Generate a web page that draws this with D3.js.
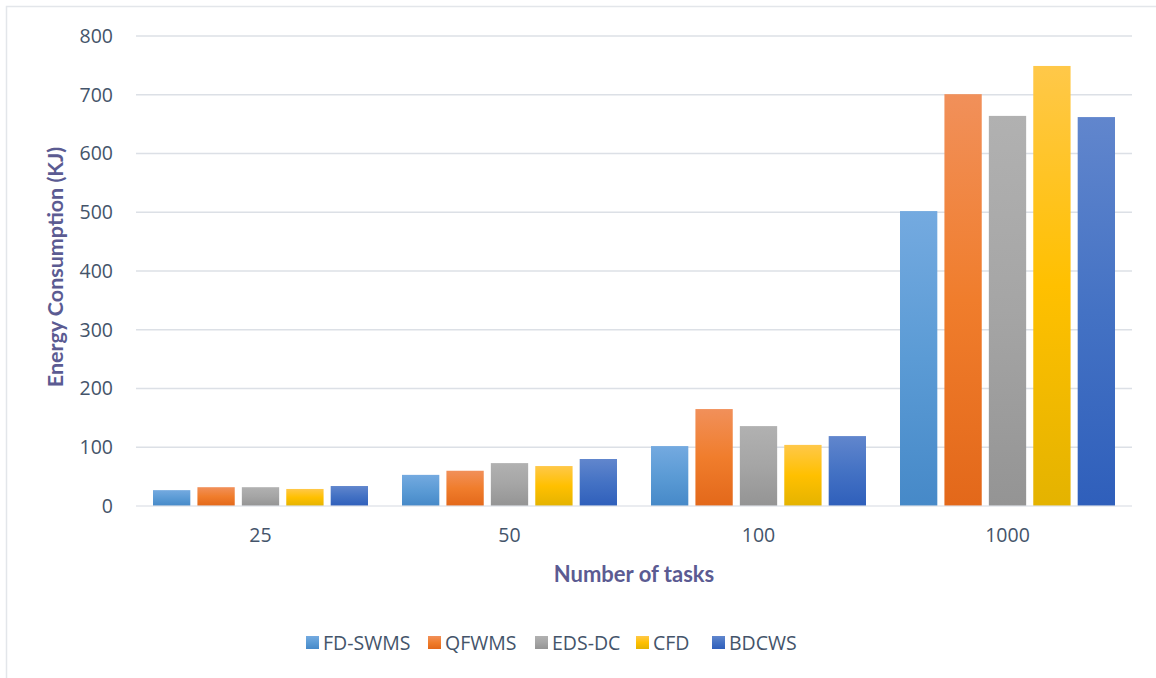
<!DOCTYPE html>
<html>
<head>
<meta charset="utf-8">
<script src="https://cdn.jsdelivr.net/npm/d3@7"></script>
<style>
  html, body { margin: 0; padding: 0; background: #fff; }
  svg { display: block; }
</style>
</head>
<body>
<svg id="chart" width="1156" height="678"></svg>
<script>
// Energy consumption (KJ) per scheduling method, by number of tasks
const categories = ["25", "50", "100", "1000"];
const seriesNames = ["FD-SWMS", "QFWMS", "EDS-DC", "CFD", "BDCWS"];
const fdSwms = [27, 53, 102, 502];
const qfwms  = [32, 60, 165, 701];
const edsDc  = [32, 73, 136, 664];
const cfd    = [29, 68, 104, 749];
const bdcws  = [34, 80, 119, 662];
const yTicks = [0, 100, 200, 300, 400, 500, 600, 700, 800];

const seriesValues = [fdSwms, qfwms, edsDc, cfd, bdcws];
// top / middle / bottom gradient stops for each series
const palette = [
  ["#74aae0", "#5b9bd5", "#4689c8"],
  ["#f1905a", "#f07d2c", "#e3681a"],
  ["#b1b1b1", "#a5a5a5", "#949494"],
  ["#ffc849", "#ffc000", "#e4b300"],
  ["#6186cd", "#4472c4", "#2f5fbb"]
];

const svg = d3.select("#chart");
const margin = { left: 136, right: 24, top: 36, bottom: 172 };
const W = 1156, H = 678;
const plotW = W - margin.left - margin.right;
const plotH = H - margin.top - margin.bottom;

const tickFont = "'Open Sans', sans-serif";
const titleFont = "Lato, 'Open Sans', sans-serif";
const textColor = "#44546a";
const titleColor = "#5b5b92";

// chart frame
svg.append("rect")
  .attr("x", 6.5).attr("y", 6.5)
  .attr("width", 1200).attr("height", 720)
  .attr("fill", "none").attr("stroke", "#e3e6ea").attr("stroke-width", 1.5);

// gradients
const defs = svg.append("defs");
palette.forEach((c, i) => {
  const g = defs.append("linearGradient")
    .attr("id", "grad" + i)
    .attr("x1", 0).attr("y1", 0).attr("x2", 0).attr("y2", 1);
  g.append("stop").attr("offset", "0%").attr("stop-color", c[0]);
  g.append("stop").attr("offset", "50%").attr("stop-color", c[1]);
  g.append("stop").attr("offset", "100%").attr("stop-color", c[2]);
});

const g = svg.append("g").attr("transform", `translate(${margin.left},${margin.top})`);

const x0 = d3.scaleBand().domain(categories).range([0, plotW]).paddingInner(0).paddingOuter(0);
const groupPad = 17;
const x1 = d3.scaleBand().domain(seriesNames)
  .range([groupPad, x0.bandwidth() - groupPad]).paddingInner(0.16).paddingOuter(0);
const y = d3.scaleLinear().domain([0, 800]).range([plotH, 0]);

// gridlines
g.append("g")
  .selectAll("line")
  .data(yTicks.filter(t => t > 0))
  .join("line")
  .attr("x1", 0).attr("x2", plotW)
  .attr("y1", d => y(d)).attr("y2", d => y(d))
  .attr("stroke", "#dce0e6").attr("stroke-width", 1.6);

// y tick labels
const yAxis = d3.axisLeft(y).tickValues(yTicks).tickSize(0).tickPadding(23);
const yAxisG = g.append("g").call(yAxis);
yAxisG.select(".domain").remove();
yAxisG.selectAll("text")
  .attr("font-family", tickFont).attr("font-size", 19.5).attr("fill", textColor);

// bars
const rows = categories.map((c, ci) => ({
  cat: c,
  vals: seriesNames.map((s, si) => ({ s, si, v: seriesValues[si][ci] }))
}));
g.append("g")
  .selectAll("g")
  .data(rows)
  .join("g")
  .attr("transform", d => `translate(${x0(d.cat)},0)`)
  .selectAll("rect")
  .data(d => d.vals)
  .join("rect")
  .attr("x", d => x1(d.s))
  .attr("width", x1.bandwidth())
  .attr("y", d => y(d.v))
  .attr("height", d => plotH - y(d.v))
  .attr("fill", d => `url(#grad${d.si})`);

// zero line over the bar bases
g.append("line")
  .attr("x1", 0).attr("x2", plotW)
  .attr("y1", y(0)).attr("y2", y(0))
  .attr("stroke", "#dce0e6").attr("stroke-width", 1.6).attr("stroke-opacity", 0.8);

// x category labels
const xAxis = d3.axisBottom(x0).tickSize(0).tickPadding(22);
const xAxisG = g.append("g").attr("transform", `translate(0,${plotH})`).call(xAxis);
xAxisG.select(".domain").remove();
xAxisG.selectAll("text")
  .attr("font-family", tickFont).attr("font-size", 19.5).attr("fill", textColor);

// axis titles
svg.append("text")
  .attr("x", 634).attr("y", 582)
  .attr("text-anchor", "middle")
  .attr("font-family", titleFont).attr("font-weight", "bold")
  .attr("font-size", 22).attr("fill", titleColor)
  .text("Number of tasks");

svg.append("text")
  .attr("transform", `translate(63,${267}) rotate(-90)`)
  .attr("text-anchor", "middle")
  .attr("font-family", titleFont).attr("font-weight", "bold")
  .attr("font-size", 21.5).attr("fill", titleColor)
  .text("Energy Consumption (KJ)");

// legend
const legendX = [306, 428, 535, 636, 712];
const legend = svg.append("g")
  .selectAll("g")
  .data(seriesNames)
  .join("g")
  .attr("transform", (d, i) => `translate(${legendX[i]},636)`);
legend.append("rect")
  .attr("width", 13).attr("height", 13)
  .attr("fill", (d, i) => `url(#grad${i})`);
legend.append("text")
  .attr("x", 17).attr("y", 6.5).attr("dy", "0.36em")
  .attr("font-family", tickFont).attr("font-size", 19.5).attr("fill", textColor)
  .text(d => d);
</script>
</body>
</html>
